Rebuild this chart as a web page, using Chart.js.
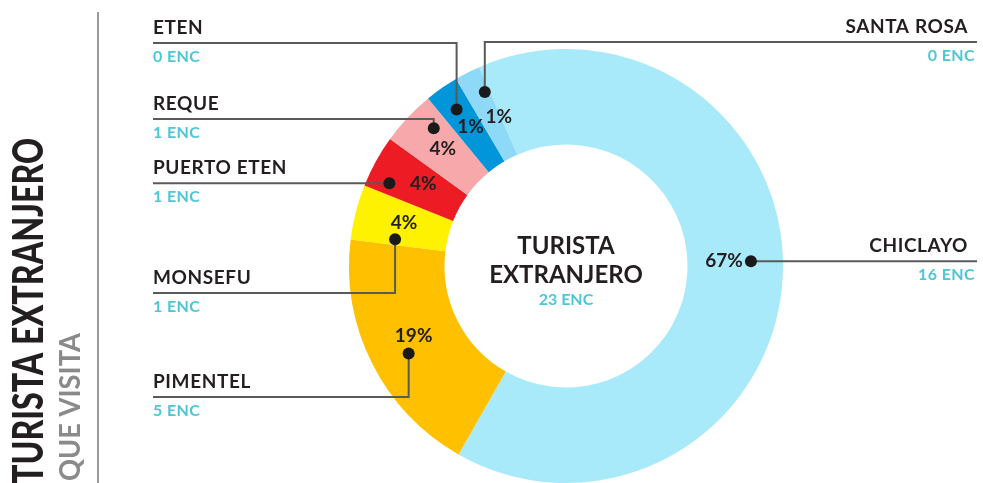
<!DOCTYPE html>
<html>
<head>
<meta charset="utf-8">
<script src="https://cdn.jsdelivr.net/npm/chart.js@4/dist/chart.umd.min.js"></script>
<style>
  body { margin: 0; background: #fff; }
  canvas { display: block; }
</style>
</head>
<body>
<canvas id="chart" width="983" height="483"></canvas>
<script>
// data
var categories = ["CHICLAYO", "PIMENTEL", "MONSEFU", "PUERTO ETEN", "REQUE", "ETEN", "SANTA ROSA"];
var shares = [64.8, 18.7, 4.1, 3.9, 4.1, 2.5, 1.9];          // slice size as drawn
var pctLabels = ["67%", "19%", "4%", "4%", "4%", "1%", "1%"];  // printed percentages
var encuestas = [16, 5, 1, 1, 1, 0, 0];
var totalEnc = 23;
var colors = ["#a8eaf9", "#ffc000", "#fff200", "#ed1c24", "#f6a8aa", "#0096d9", "#8ed8f8"];

// callout layout: dot angle offset (deg) and radius, label side, y of horizontal line, pct text offset
var layout = [
  { da: -4.5, r: 185, side: "right", lineY: null, tx: -8, ty: 0, align: "right" },
  { da: -2.4, r: 180, side: "left", lineY: 397, tx: 5, ty: -18, align: "center" },
  { da: -5.5, r: 173, side: "left", lineY: 293, tx: 9, ty: -16, align: "center" },
  { da: -3.7, r: 195, side: "left", lineY: null, tx: 34, ty: 1, align: "center" },
  { da: 3, r: 191, side: "left", lineY: 119, tx: 9, ty: 21, align: "center" },
  { da: 0, r: 191, side: "left", lineY: 43, tx: 14, ty: 17, align: "center" },
  { da: 2, r: 192, side: "right", lineY: 42, tx: 14, ty: 25, align: "center" }
];

var DARK = "#231f20";
var CYAN = "#4fc6d6";
var FONT = "Lato, 'DejaVu Sans', sans-serif";

var callouts = {
  id: "callouts",
  afterDraw: function(chart) {
    var ctx = chart.ctx;
    var arcs = chart.getDatasetMeta(0).data;
    ctx.save();
    arcs.forEach(function(arc, i) {
      var p = arc.getProps(["x", "y", "startAngle", "endAngle"], true);
      var l = layout[i];
      var a = (p.startAngle + p.endAngle) / 2 + l.da * Math.PI / 180;
      var dx = p.x + l.r * Math.cos(a);
      var dy = p.y + l.r * Math.sin(a);
      var lineY = l.lineY === null ? dy : l.lineY;
      var endX = l.side === "left" ? 153 : 977;

      ctx.strokeStyle = "#5a5a5a";
      ctx.lineWidth = 2;
      ctx.beginPath();
      ctx.moveTo(dx, dy);
      ctx.lineTo(dx, lineY);
      ctx.lineTo(endX, lineY);
      ctx.stroke();

      ctx.fillStyle = "#1a1a1a";
      ctx.beginPath();
      ctx.arc(dx, dy, 6, 0, Math.PI * 2);
      ctx.fill();

      ctx.letterSpacing = "0px";
      ctx.font = "bold 19px " + FONT;
      ctx.fillStyle = DARK;
      ctx.textAlign = l.align;
      ctx.textBaseline = "middle";
      ctx.fillText(pctLabels[i], dx + l.tx, dy + l.ty);

      ctx.textBaseline = "alphabetic";
      var nx = l.side === "left" ? 153 : 968;
      var ex = l.side === "left" ? 153 : 975;
      ctx.textAlign = l.side;
      ctx.letterSpacing = "0.6px";
      ctx.font = "bold 19px " + FONT;
      ctx.fillStyle = DARK;
      ctx.fillText(categories[i], nx, lineY - 9);
      ctx.letterSpacing = "0.4px";
      ctx.font = "bold 16px " + FONT;
      ctx.fillStyle = CYAN;
      ctx.fillText(encuestas[i] + " ENC", ex, lineY + 18.5);
    });

    // center text
    var c = arcs[0];
    ctx.letterSpacing = "0px";
    ctx.textAlign = "center";
    ctx.fillStyle = DARK;
    ctx.font = "bold 24px " + FONT;
    ctx.fillText("TURISTA", c.x, 254);
    ctx.fillText("EXTRANJERO", c.x, 283);
    ctx.font = "bold 16px " + FONT;
    ctx.fillStyle = CYAN;
    ctx.fillText(totalEnc + " ENC", c.x, 305);

    // side title
    ctx.strokeStyle = "#777";
    ctx.lineWidth = 1.5;
    ctx.beginPath();
    ctx.moveTo(98, 12);
    ctx.lineTo(98, 483);
    ctx.stroke();

    ctx.save();
    ctx.translate(43, 484);
    ctx.rotate(-Math.PI / 2);
    ctx.textAlign = "left";
    ctx.font = "900 42px " + FONT;
    ctx.fillStyle = DARK;
    var w = ctx.measureText("TURISTA EXTRANJERO").width;
    ctx.scale(346 / w, 1);
    ctx.fillText("TURISTA EXTRANJERO", 0, 0);
    ctx.restore();

    ctx.save();
    ctx.translate(80, 481);
    ctx.rotate(-Math.PI / 2);
    ctx.textAlign = "left";
    ctx.font = "bold 28px " + FONT;
    ctx.fillStyle = "#8a8a8a";
    var w2 = ctx.measureText("QUE VISITA").width;
    ctx.scale(148 / w2, 1);
    ctx.fillText("QUE VISITA", 0, 0);
    ctx.restore();

    ctx.restore();
  }
};

window.chart = new Chart(document.getElementById("chart").getContext("2d"), {
  type: "doughnut",
  data: {
    labels: categories,
    datasets: [{
      data: shares,
      backgroundColor: colors,
      borderWidth: 0
    }]
  },
  options: {
    responsive: false,
    animation: false,
    rotation: -23.6,
    cutout: "56%",
    layout: { padding: { left: 300, right: 151, top: 49, bottom: 0 } },
    plugins: {
      legend: { display: false },
      tooltip: { enabled: false }
    }
  },
  plugins: [callouts]
});
</script>
</body>
</html>
